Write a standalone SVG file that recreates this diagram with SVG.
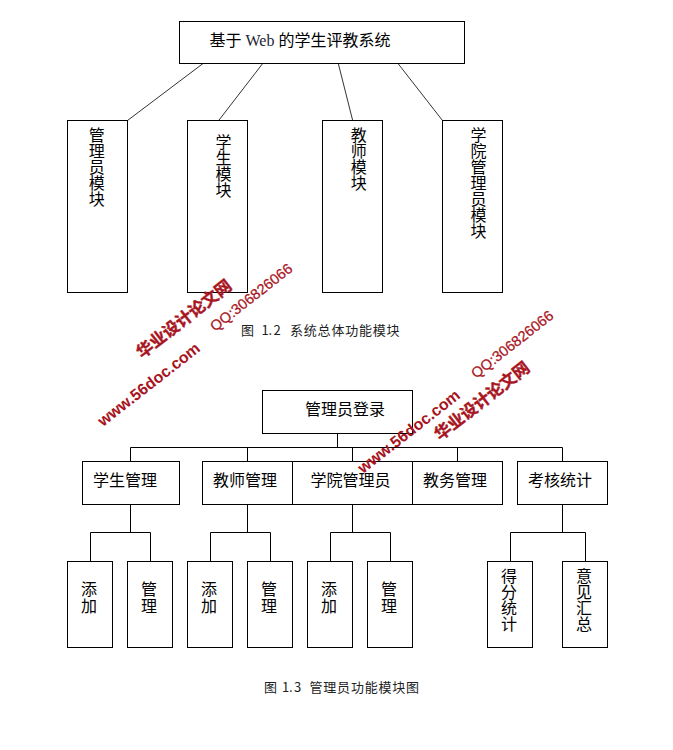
<svg xmlns="http://www.w3.org/2000/svg" width="673" height="750" viewBox="0 0 673 750">
<style>
rect{fill:#fff;stroke:#000;stroke-width:1}
.c path,.c line{fill:none;stroke:#000;stroke-width:1}
.c .d{stroke:#333}
text{font-family:"Noto Sans CJK SC","Noto Sans",sans-serif;font-size:16px;fill:#000}
.v{writing-mode:vertical-rl;text-orientation:upright}
.s{letter-spacing:1px}
.cap{font-size:13px;fill:#222;font-family:"Noto Sans CJK SC","Liberation Sans",sans-serif}
.w{fill:#a81522;font-family:"Liberation Sans","Noto Sans CJK SC",sans-serif;font-size:16px;font-weight:bold}
.h{font-size:16.5px;stroke:#a81522;stroke-width:.4}
.q{fill:#a81522;stroke:#a81522;stroke-width:.25;font-family:"Liberation Sans",sans-serif;font-size:14.6px}
</style>
<rect width="673" height="750" style="fill:#fff;stroke:none"/>
<g id="connectors" class="c">
<line class="d" x1="203" y1="63.5" x2="127.5" y2="120.5"/>
<line class="d" x1="262.7" y1="63.5" x2="218.7" y2="120.5"/>
<line class="d" x1="338.3" y1="63.5" x2="352.7" y2="120.5"/>
<line class="d" x1="398" y1="63.5" x2="442.5" y2="120.5"/>
<path d="M337.5 433.5V447.5M130.5 461.5V447.5H562.5V461.5M247.5 447.5V461.5M352.5 447.5V461.5M457.5 447.5V461.5"/>
<path d="M130.5 504.5V532.5M90.5 561.5V532.5H150.5V561.5"/>
<path d="M247.5 504.5V532.5M210.5 561.5V532.5H270.5V561.5"/>
<path d="M352.5 504.5V532.5M330.5 561.5V532.5H390.5V561.5"/>
<path d="M562.5 504.5V532.5M510.5 561.5V532.5H585.5V561.5"/>
</g>
<g id="root1"><rect x="179.5" y="21.5" width="285" height="42"/><text x="209.5" y="46">基于<tspan font-family="Liberation Serif" fill="#223"> Web </tspan>的学生评教系统</text></g>
<g id="m1"><rect x="67.5" y="120.5" width="60" height="172"/><text class="v" x="96.7" y="126.5">管理员模块</text></g>
<g id="m2"><rect x="187.5" y="120.5" width="60" height="172"/><text class="v" x="223.5" y="134">学生模块</text></g>
<g id="m3"><rect x="322.5" y="120.5" width="60" height="172"/><text class="v" x="358.7" y="126.5">教师模块</text></g>
<g id="m4"><rect x="442.5" y="120.5" width="60" height="172"/><text class="v" x="478.5" y="126.5">学院管理员模块</text></g>
<text id="cap1" class="cap" y="335" x="241 254.5 261.5 268.5 273.5 281 290 303.8 317.6 331.4 345.2 359 372.8 386.6">图 1.2 系统总体功能模块</text>
<g id="root2"><rect x="262.5" y="390.5" width="150" height="43"/><text x="305" y="415">管理员登录</text></g>
<g id="a1"><rect x="82.5" y="461.5" width="97" height="43"/><text x="93" y="486">学生管理</text></g>
<g id="a2"><rect x="202.5" y="461.5" width="90" height="43"/><text x="213" y="486">教师管理</text></g>
<g id="a3"><rect x="292.5" y="461.5" width="120" height="43"/><text x="310.5" y="486">学院管理员</text></g>
<g id="a4"><rect x="412.5" y="461.5" width="90" height="43"/><text x="423" y="486">教务管理</text></g>
<g id="a5"><rect x="517.5" y="461.5" width="90" height="43"/><text x="528" y="486">考核统计</text></g>
<g id="b1"><rect x="67.5" y="561.5" width="45" height="86"/><text class="v s" x="89" y="581">添加</text></g>
<g id="b2"><rect x="127.5" y="561.5" width="45" height="86"/><text class="v s" x="149" y="581">管理</text></g>
<g id="b3"><rect x="187.5" y="561.5" width="45" height="86"/><text class="v s" x="209" y="581">添加</text></g>
<g id="b4"><rect x="247.5" y="561.5" width="45" height="86"/><text class="v s" x="269" y="581">管理</text></g>
<g id="b5"><rect x="307.5" y="561.5" width="45" height="86"/><text class="v s" x="329" y="581">添加</text></g>
<g id="b6"><rect x="367.5" y="561.5" width="45" height="86"/><text class="v s" x="389" y="581">管理</text></g>
<g id="b7"><rect x="487.5" y="561.5" width="45" height="86"/><text class="v" x="509" y="567.5">得分统计</text></g>
<g id="b8"><rect x="562.5" y="561.5" width="45" height="86"/><text class="v" x="584" y="567.5">意见汇总</text></g>
<text id="cap2" class="cap" y="692" x="264 277.5 282 289 294 301.5 309.5 323.3 337.1 350.9 364.7 378.5 392.3 406.1">图 1.3 管理员功能模块图</text>
<g id="watermarks">
<text class="w h" transform="translate(142 359) rotate(-38)">华业设计论文网</text>
<text class="w" transform="translate(103 427) rotate(-38)">www.56doc.com</text>
<text class="q" transform="translate(215 332) rotate(-38)">QQ:306826066</text>
<text class="w h" transform="translate(440 441) rotate(-38)">华业设计论文网</text>
<text class="w" transform="translate(363 474) rotate(-38)">www.56doc.com</text>
<text class="q" transform="translate(476 379) rotate(-38)">QQ:306826066</text>
</g>
</svg>
